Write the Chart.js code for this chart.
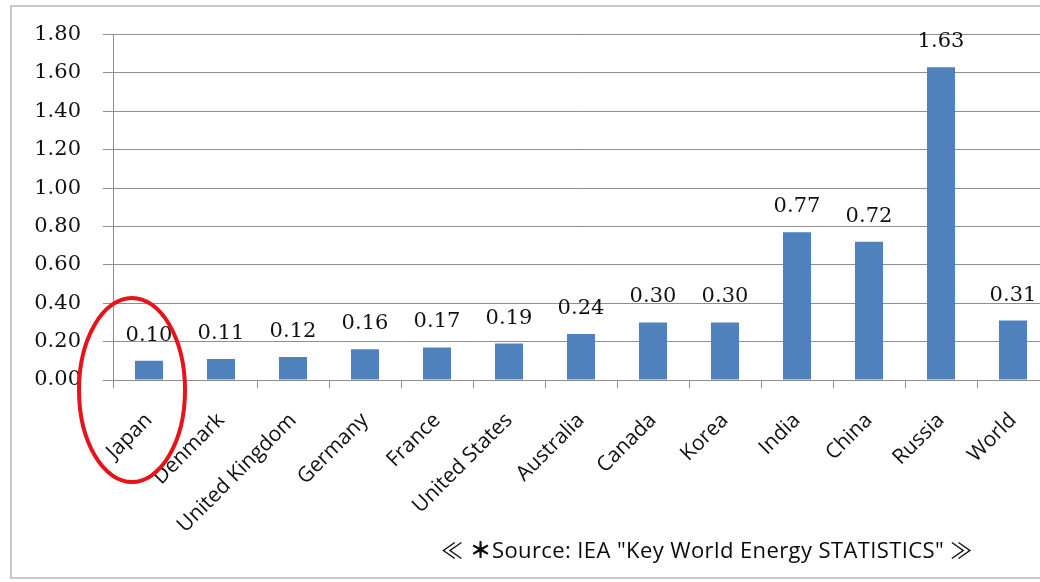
<!DOCTYPE html>
<html>
<head>
<meta charset="utf-8">
<script src="https://cdn.jsdelivr.net/npm/chart.js@4/dist/chart.umd.min.js"></script>
<style>
  html, body { margin: 0; padding: 0; background: #fff; overflow: hidden; }
  body { width: 1040px; height: 582px; position: relative; }
  .frame { position: absolute; left: 10px; top: 5px; width: 1060px; height: 574px; border: 2px solid #c8c8c8; box-sizing: border-box; }
  .wrap { position: absolute; left: 0; top: 0; width: 1062px; height: 582px; }
  .source { position: absolute; left: 441px; top: 538px; line-height: 1; font-family: "Open Sans", "Noto Sans CJK JP", sans-serif; font-size: 22px; letter-spacing: 0.4px; color: #0a0a0a; white-space: nowrap; }
  .source b { font-weight: 900; }
</style>
</head>
<body>
<div class="frame"></div>
<div class="wrap"><canvas id="chart"></canvas></div>
<div class="source">≪ <b>＊</b>Source: IEA "Key World Energy STATISTICS" ≫</div>
<script>
const countries = ['Japan', 'Denmark', 'United Kingdom', 'Germany', 'France', 'United States',
  'Australia', 'Canada', 'Korea', 'India', 'China', 'Russia', 'World'];
const values = [0.10, 0.11, 0.12, 0.16, 0.17, 0.19, 0.24, 0.30, 0.30, 0.77, 0.72, 1.63, 0.31];
const yTicks = [0, 0.2, 0.4, 0.6, 0.8, 1.0, 1.2, 1.4, 1.6, 1.8];

const barColor = '#4F81BD';
const gridColor = '#8e8e8e';

// value labels above each bar + red ring around Japan
const decorations = {
  id: 'decorations',
  afterDatasetsDraw(chart) {
    const ctx = chart.ctx;
    const meta = chart.getDatasetMeta(0);
    ctx.save();
    ctx.font = '21px "DejaVu Serif", serif';
    ctx.fillStyle = '#111';
    ctx.textAlign = 'center';
    ctx.textBaseline = 'alphabetic';
    meta.data.forEach((bar, i) => {
      ctx.fillText(values[i].toFixed(2), bar.x, bar.y - 20);
    });
    ctx.restore();
  },
  afterDraw(chart) {
    const ctx = chart.ctx;
    const x = chart.scales.x, y = chart.scales.y;
    ctx.save();
    ctx.strokeStyle = '#e8121a';
    ctx.lineWidth = 4;
    ctx.beginPath();
    ctx.ellipse(x.getPixelForValue(0) - 17, y.getPixelForValue(0) + 10, 53, 92, 0, 0, Math.PI * 2);
    ctx.stroke();
    ctx.restore();
  }
};

new Chart(document.getElementById('chart'), {
  type: 'bar',
  data: {
    labels: countries,
    datasets: [{
      data: values,
      backgroundColor: barColor,
      barPercentage: 0.78,
      categoryPercentage: 0.5
    }]
  },
  options: {
    responsive: true,
    maintainAspectRatio: false,
    animation: false,
    layout: { padding: { top: 33.5, right: 13, left: 0, bottom: 0 } },
    plugins: { legend: { display: false }, tooltip: { enabled: false } },
    scales: {
      x: {
        afterFit: s => { s.height = 202; },
        grid: { drawOnChartArea: false, drawTicks: true, tickLength: 8, color: gridColor, offset: true },
        border: { color: gridColor, width: 1 },
        ticks: {
          minRotation: 45, maxRotation: 45, padding: 20,
          color: '#111',
          font: { family: 'Open Sans', size: 21 }
        }
      },
      y: {
        min: 0, max: 1.8,
        afterFit: s => { s.width = 113; },
        afterBuildTicks: s => { s.ticks = yTicks.map(v => ({ value: v })); },
        grid: { color: gridColor, tickLength: 10, lineWidth: 1 },
        border: { color: gridColor, width: 1 },
        ticks: {
          padding: 22,
          color: '#111',
          font: { family: 'DejaVu Serif', size: 21 },
          callback: v => v.toFixed(2)
        }
      }
    }
  },
  plugins: [decorations]
});
</script>
</body>
</html>
